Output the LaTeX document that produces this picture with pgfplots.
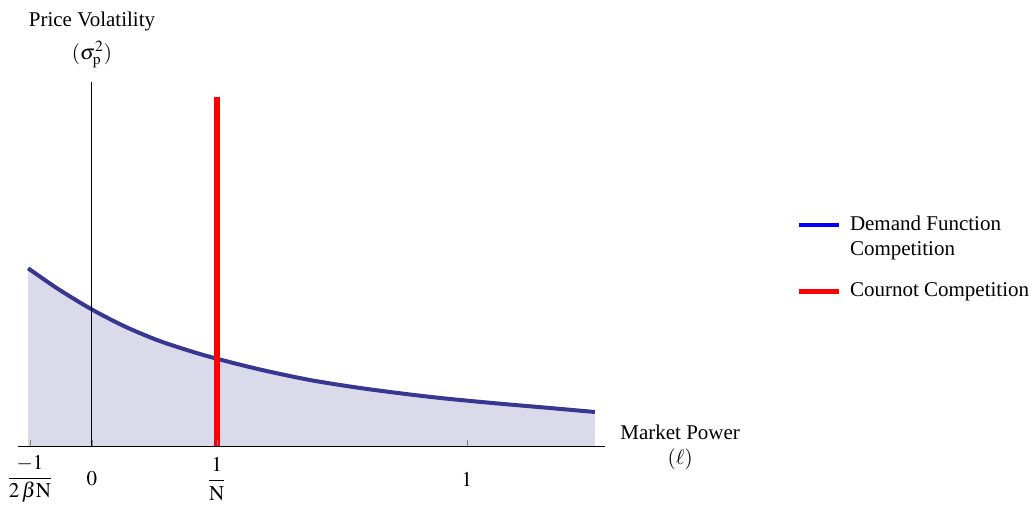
\documentclass[border=0pt]{standalone}
\usepackage{amsmath}
\usepackage{mathptmx}
\usepackage{fontspec}
\setmainfont{Liberation Serif}
\usepackage{pgfplots}
\pgfplotsset{compat=1.18}

\definecolor{curveblue}{RGB}{55,55,145}
\definecolor{fillblue}{RGB}{218,218,235}

\pgfplotsset{
    raisedline/.style={legend image code/.code={\draw[##1] (0pt,6.25pt) -- (20pt,6.25pt);}},
    flatline/.style={legend image code/.code={\draw[##1] (0pt,0pt) -- (20pt,0pt);}},
}

\pgfplotstableread{
x      y
-0.170 1.787
-0.090 1.580
0.000  1.375
0.088  1.205
0.177  1.065
0.266  0.955
0.336  0.880
0.448  0.775
0.581  0.670
0.715  0.590
0.848  0.525
0.955  0.480
1.088  0.433
1.221  0.390
1.341  0.350
}\volatility

\begin{document}
\begin{tikzpicture}[font=\fontsize{10.5}{12.5}\selectfont]
\begin{axis}[
    scale only axis,
    width=293.5pt, height=182.5pt,
    xmin=-0.197, xmax=1.368, ymin=0, ymax=3.65,
    axis lines=middle,
    axis line style={-, black, line width=0.5pt},
    axis on top,
    clip=false,
    xtick={-0.165,0,0.333,1},
    xticklabels={$\dfrac{-1}{2\,\beta\mathrm{N}}$, $0$, $\dfrac{1}{\mathrm{N}}$, $1$},
    ytick=\empty,
    hide obscured x ticks=false,
    xtick align=inside,
    major tick length=3.5pt,
    xticklabel style={anchor=center, yshift=-16pt},
    xlabel={Market Power\\$(\ell)$},
    xlabel style={at={(axis description cs:1.128,0)}, anchor=center, align=center},
    ylabel={Price Volatility\\[4pt]$(\sigma^{2}_{\mathrm{p}})$},
    ylabel style={at={(axis description cs:0.126,1)}, anchor=south, align=center, yshift=3.5pt},
    legend style={draw=none, fill=none, at={(1.3155,0.655)}, anchor=north west,
                  cells={anchor=west, align=left}, row sep=8pt, column sep=2.5pt},
]
\coordinate (sw) at (rel axis cs:0,0);

% shaded area under the volatility curve
\addplot[fill=fillblue, draw=none, smooth, forget plot] table[x=x, y=y] {\volatility} \closedcycle;

% demand function competition
\addplot[curveblue, line width=2pt, smooth, forget plot] table[x=x, y=y] {\volatility};

% Cournot competition
\addplot[red, line width=3pt, forget plot] coordinates {(0.333,0) (0.333,3.50)};

\addlegendimage{raisedline, blue, line width=2.2pt}
\addlegendentry{Demand Function\\Competition}
\addlegendimage{flatline, red, line width=2.2pt}
\addlegendentry{Cournot Competition}
\end{axis}
\pgfresetboundingbox
\path[use as bounding box] (sw) ++(-9pt,-29.5pt) rectangle ++(517pt,253pt);
\end{tikzpicture}
\end{document}
